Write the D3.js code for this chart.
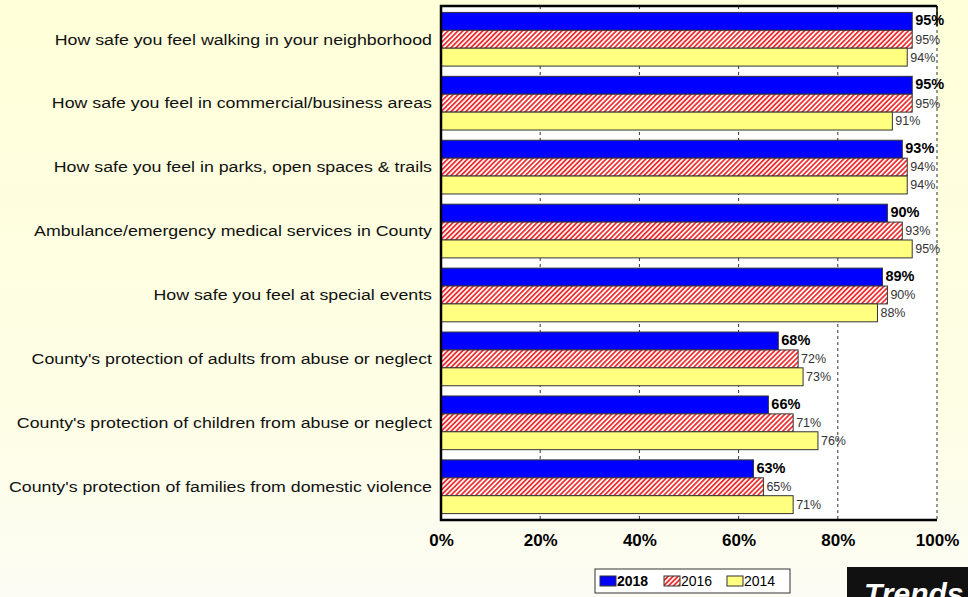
<!DOCTYPE html>
<html lang="en">
<head>
<meta charset="utf-8">
<title>Safety Ratings Trends</title>
<script src="https://d3js.org/d3.v7.min.js"></script>
<style>
body { margin: 0; }
svg { display: block; font-family: "Liberation Sans", Arial, sans-serif; }
.cat text { font-size: 15px; fill: #111; }
.xaxis text { font-size: 17px; font-weight: bold; fill: #000; }
.xaxis path, .xaxis line { display: none; }
</style>
</head>
<body>
<script>

// data
var categories = [
  "How safe you feel walking in your neighborhood",
  "How safe you feel in commercial/business areas",
  "How safe you feel in parks, open spaces & trails",
  "Ambulance/emergency medical services in County",
  "How safe you feel at special events",
  "County's protection of adults from abuse or neglect",
  "County's protection of children from abuse or neglect",
  "County's protection of families from domestic violence"
];
var years = ["2018", "2016", "2014"];
var values2018 = [95, 95, 93, 90, 89, 68, 66, 63];
var values2016 = [95, 95, 94, 93, 90, 72, 71, 65];
var values2014 = [94, 91, 94, 95, 88, 73, 76, 71];
var xTicks = [0, 20, 40, 60, 80, 100];

var W = 968, H = 597;
var plot = {left: 441, top: 6, right: 937, bottom: 520};

var svg = d3.select("body").append("svg")
    .attr("width", W)
    .attr("height", H);

var defs = svg.append("defs");
var bg = defs.append("linearGradient").attr("id", "bg")
    .attr("x1", 0).attr("y1", 0).attr("x2", 0).attr("y2", 1);
bg.append("stop").attr("offset", "0%").attr("stop-color", "#ffffd9");
bg.append("stop").attr("offset", "70%").attr("stop-color", "#fefee6");
bg.append("stop").attr("offset", "100%").attr("stop-color", "#fcfcf4");

var hatch = defs.append("pattern").attr("id", "hatch")
    .attr("patternUnits", "userSpaceOnUse")
    .attr("width", 3.5).attr("height", 3.5)
    .attr("patternTransform", "rotate(45)");
hatch.append("rect").attr("width", 3.5).attr("height", 3.5).attr("fill", "#fff");
hatch.append("rect").attr("width", 1.8).attr("height", 3.5).attr("fill", "#f03030");

svg.append("rect").attr("width", W).attr("height", H).attr("fill", "url(#bg)");

// scales
var x = d3.scaleLinear().domain([0, 100]).range([plot.left, plot.right]);
var y = d3.scaleBand().domain(categories).range([plot.top, plot.bottom])
    .paddingInner(0.16).paddingOuter(0.1);
var ySub = d3.scaleBand().domain(years).range([0, y.bandwidth()]);

var series = {"2018": values2018, "2016": values2016, "2014": values2014};
var fills = {"2018": "#0000ff", "2016": "url(#hatch)", "2014": "#ffff80"};

// plot area
svg.append("rect")
    .attr("x", plot.left).attr("y", plot.top)
    .attr("width", plot.right - plot.left).attr("height", plot.bottom - plot.top)
    .attr("fill", "#fff");

// dashed gridlines
svg.append("g").selectAll("line")
    .data(xTicks.slice(1))
    .join("line")
    .attr("x1", d => x(d)).attr("x2", d => x(d))
    .attr("y1", plot.top).attr("y2", plot.bottom)
    .attr("stroke", "#333").attr("stroke-width", 1)
    .attr("stroke-dasharray", "3,3");

// bars
var groups = svg.append("g").selectAll("g")
    .data(categories)
    .join("g")
    .attr("transform", d => "translate(0," + y(d) + ")");

years.forEach(function(yr) {
  groups.append("rect")
    .attr("x", x(0))
    .attr("y", ySub(yr))
    .attr("width", (d, i) => x(series[yr][i]) - x(0))
    .attr("height", ySub.bandwidth())
    .attr("fill", fills[yr])
    .attr("stroke", "#333")
    .attr("stroke-width", 1);

  groups.append("text")
    .attr("x", (d, i) => x(series[yr][i]) + 3)
    .attr("y", ySub(yr) + ySub.bandwidth() / 2 - (yr == "2018" ? 1 : 0))
    .attr("dy", "0.35em")
    .style("font-size", yr == "2018" ? "14.5px" : "12.5px")
    .style("font-weight", yr == "2018" ? "bold" : "normal")
    .attr("fill", yr == "2018" ? "#000" : "#333")
    .text((d, i) => series[yr][i] + "%");
});

// plot border
svg.append("path")
    .attr("d", "M" + plot.right + "," + plot.top + "H" + plot.left + "V" + plot.bottom + "H" + plot.right)
    .attr("fill", "none").attr("stroke", "#000").attr("stroke-width", 2.5);
svg.append("line")
    .attr("x1", plot.right).attr("x2", plot.right)
    .attr("y1", plot.top).attr("y2", plot.top + 20)
    .attr("stroke", "#000").attr("stroke-width", 1.5);

// category labels (the source font is set wide, so stretch horizontally)
svg.append("g").attr("class", "cat").selectAll("text")
    .data(categories)
    .join("text")
    .attr("transform", d => "translate(432," + (y(d) + y.bandwidth() / 2) + ") scale(1.185,1)")
    .attr("dy", "0.35em")
    .attr("text-anchor", "end")
    .text(d => d);

// x axis
svg.append("g").attr("class", "xaxis")
    .attr("transform", "translate(0," + (plot.bottom + 11) + ")")
    .call(d3.axisBottom(x).tickValues(xTicks).tickSize(0).tickFormat(d => d + "%"));

// legend
var legend = svg.append("g").attr("transform", "translate(595,569)");
legend.append("rect").attr("width", 195).attr("height", 24)
    .attr("fill", "#fff").attr("stroke", "#333").attr("stroke-width", 1);
var legX = [5, 69, 132];
years.forEach(function(yr, i) {
  legend.append("rect")
    .attr("x", legX[i]).attr("y", 7)
    .attr("width", 16).attr("height", 10)
    .attr("fill", fills[yr]).attr("stroke", "#333");
  legend.append("text")
    .attr("x", legX[i] + 17).attr("y", 17)
    .style("font-size", "14px")
    .style("font-weight", yr == "2018" ? "bold" : "normal")
    .text(yr);
});

// Trends tag
svg.append("rect").attr("x", 847).attr("y", 567).attr("width", 130).attr("height", 40).attr("fill", "#111");
svg.append("text").attr("x", 864).attr("y", 604)
    .style("font-size", "30px").style("font-weight", "bold").style("font-style", "italic")
    .attr("fill", "#fff").text("Trends");

</script>
</body>
</html>
